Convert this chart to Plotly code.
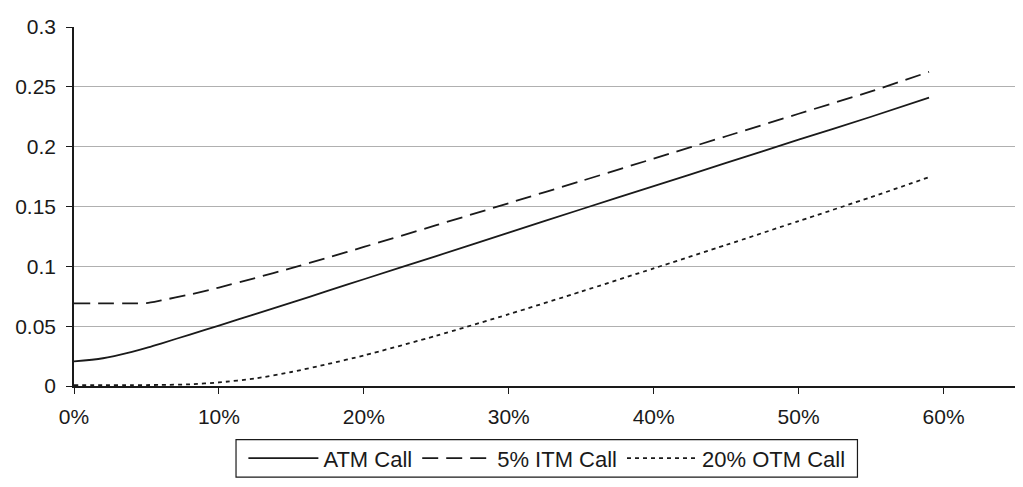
import plotly.graph_objects as go

# Volatility (x) values
vol = [0.0, 0.02, 0.04, 0.05, 0.06, 0.08, 0.10, 0.125, 0.15, 0.175, 0.20,
       0.25, 0.30, 0.35, 0.40, 0.45, 0.50, 0.55, 0.59]

atm_call = [0.0205, 0.0232, 0.0286, 0.0318, 0.0355, 0.0430, 0.0505, 0.0601, 0.0697,
            0.0794, 0.0892, 0.1086, 0.1282, 0.1477, 0.1670, 0.1864, 0.2058, 0.2250, 0.2410]
itm_call = [0.0690, 0.0690, 0.0690, 0.0693, 0.0715, 0.0765, 0.0823, 0.0902, 0.0985,
            0.1072, 0.1162, 0.1344, 0.1528, 0.1713, 0.1900, 0.2087, 0.2275, 0.2462, 0.2625]
otm_call = [0.0008, 0.0008, 0.0008, 0.0008, 0.0009, 0.0014, 0.0030, 0.0063, 0.0117,
            0.0183, 0.0255, 0.0420, 0.0600, 0.0789, 0.0983, 0.1179, 0.1378, 0.1578, 0.1745]

x_ticks = [0, 0.1, 0.2, 0.3, 0.4, 0.5, 0.6]
x_labels = ["0%", "10%", "20%", "30%", "40%", "50%", "60%"]
y_ticks = [0, 0.05, 0.1, 0.15, 0.2, 0.25, 0.3]
y_labels = ["0", "0.05", "0.1", "0.15", "0.2", "0.25", "0.3"]

LINE = "#1a1a1a"
FONT = "Liberation Sans, Arial, sans-serif"

fig = go.Figure()
fig.add_trace(go.Scatter(x=vol, y=atm_call, mode="lines", name="ATM Call",
                         line=dict(color=LINE, width=1.8, shape="spline", smoothing=0.8)))
fig.add_trace(go.Scatter(x=vol, y=itm_call, mode="lines", name="5% ITM Call",
                         line=dict(color=LINE, width=1.8, dash="16px,8px", shape="spline", smoothing=0.6)))
fig.add_trace(go.Scatter(x=vol, y=otm_call, mode="lines", name="20% OTM Call",
                         line=dict(color=LINE, width=1.8, dash="4px,4px", shape="spline", smoothing=0.6)))

# legend frame drawn as a shape (gives the wider padding of the original)
fig.add_shape(type="rect", xref="paper", yref="paper",
              x0=0.172, x1=0.8317, y0=-0.2536, y1=-0.1496,
              line=dict(color="#1a1a1a", width=1.2), fillcolor="rgba(0,0,0,0)")

# page body has an 8px default margin, so the figure is sized/offset to compensate
fig.update_layout(
    width=1015, height=479,
    margin=dict(l=63, r=7, t=14, b=100),
    paper_bgcolor="white", plot_bgcolor="white",
    font=dict(family=FONT, size=21, color="#1a1a1a"),
    showlegend=True,
    legend=dict(orientation="h", x=0.502, xanchor="center", y=-0.2016, yanchor="middle",
                borderwidth=0, bgcolor="rgba(0,0,0,0)",
                font=dict(family=FONT, size=22), itemwidth=70,
                tracegroupgap=0),
    xaxis=dict(range=[0, 0.65], tickvals=x_ticks, ticktext=x_labels,
               showgrid=False, zeroline=False, showline=True, linecolor="#1a1a1a",
               linewidth=1.5, ticks="outside", ticklen=6, tickcolor="#1a1a1a",
               tickfont=dict(size=21), ticklabelstandoff=5),
    yaxis=dict(range=[0, 0.3], tickvals=y_ticks, ticktext=y_labels,
               showgrid=True, gridcolor="#b0b0b0", gridwidth=1, zeroline=False,
               showline=True, linecolor="#1a1a1a", linewidth=1.5,
               ticks="outside", ticklen=6, tickcolor="#1a1a1a",
               tickfont=dict(size=21), ticklabelstandoff=6),
)

fig.write_html("out.html")
